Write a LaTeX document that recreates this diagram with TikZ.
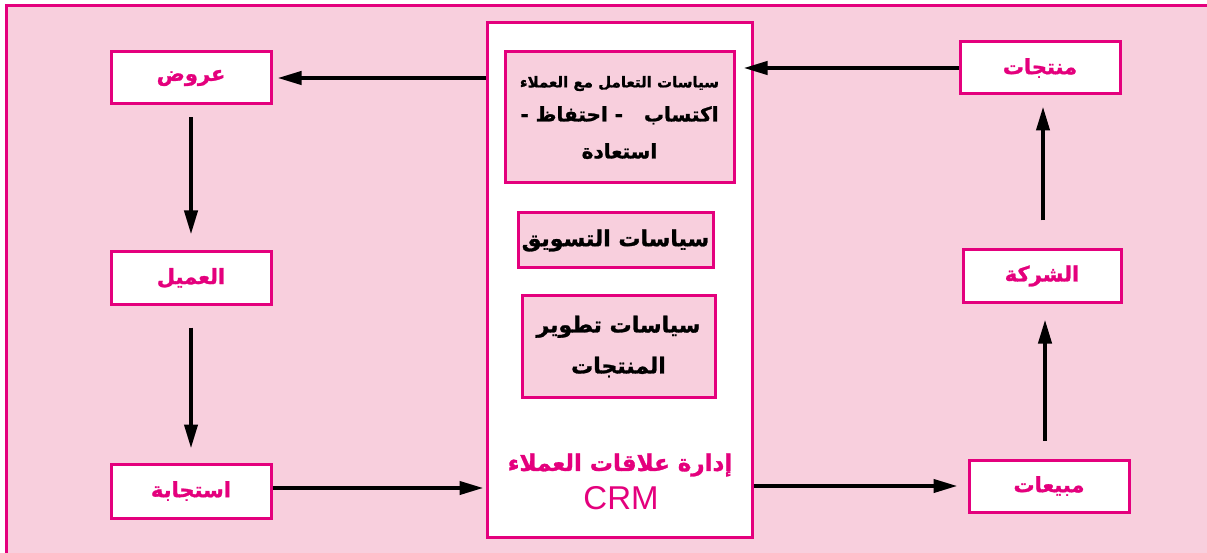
\documentclass[tikz,border=0pt]{standalone}
\usepackage{fontspec}
\usetikzlibrary{arrows.meta}
\TeXXeTstate=1
\newfontfamily\arabicfont[Script=Arabic,BoldFeatures={FakeBold=1.2}]{DejaVu Sans}
\newfontfamily\latinfont{Liberation Sans}
\definecolor{crmpink}{HTML}{F8CFDD}
\definecolor{crmmagenta}{HTML}{E4007D}
\newcommand{\artxt}[1]{\beginR #1\endR}

\begin{document}
\begin{tikzpicture}[x=1pt,y=-1pt,>={Triangle[length=24pt,width=13pt]},
  outerbox/.style={draw=crmmagenta,fill=white,line width=3pt,minimum width=160pt,minimum height=52pt,inner sep=0pt,
    text=crmmagenta,font=\arabicfont\bfseries\fontsize{21}{26}\selectfont},
  innerbox/.style={draw=crmmagenta,fill=crmpink,line width=3pt,inner sep=0pt,align=center},
  flow/.style={->,line width=4pt}]
      \useasboundingbox (0,0) rectangle (1207,553);
      \clip (0,0) rectangle (1207,553);
      \fill[crmpink] (6,6) rectangle (1207,553);
      \draw[crmmagenta,line width=3pt] (6,560) -- (6,6) -- (1215,6);

      % centre block
      \node[draw=crmmagenta,fill=white,line width=3pt,minimum width=265pt,minimum height=514pt,inner sep=0pt] (crm) at (619.5,280) {};
      \node[innerbox,minimum width=229pt,minimum height=131pt,font=\arabicfont\bfseries\fontsize{20}{37}\selectfont] (dealing) at (619.5,117.5)
        {{\fontsize{15}{16}\selectfont\artxt{سياسات التعامل مع العملاء}}\\[-3pt] \artxt{اكتساب \ \ - احتفاظ -}\\ \artxt{استعادة}};
      \node[innerbox,minimum width=195pt,minimum height=55pt,font=\arabicfont\bfseries\fontsize{22}{26}\selectfont] (marketing) at (615.5,240.5)
        {\artxt{سياسات التسويق}};
      \node[innerbox,minimum width=193pt,minimum height=101pt,font=\arabicfont\bfseries\fontsize{22}{41}\selectfont] (development) at (618.5,346.5)
        {\artxt{سياسات تطوير}\\ \artxt{المنتجات}};
      \node[text=crmmagenta,font=\arabicfont\bfseries\fontsize{23}{26}\selectfont] (crmtitle) at (620,465) {\artxt{إدارة علاقات العملاء}};
      \node[text=crmmagenta,font=\latinfont\fontsize{33}{36}\selectfont] (crmname) at (621,498) {CRM};

      % left column
      \node[outerbox] (offers) at (191,78) {\artxt{عروض}};
      \node[outerbox] (customer) at (191,278) {\artxt{العميل}};
      \node[outerbox,minimum height=54pt] (response) at (191,491) {\artxt{استجابة}};

      % right column
      \node[outerbox] (products) at (1040,68) {\artxt{منتجات}};
      \node[outerbox,minimum width=158pt] (company) at (1042,276) {\artxt{الشركة}};
      \node[outerbox] (sales) at (1049,486) {\artxt{مبيعات}};

      \draw[flow] (crm.west |- offers.east) -- ([xshift=5pt]offers.east);
      \draw[flow] (products.west) -- ([xshift=8pt]dealing.east |- products.west);
      \draw[flow,shorten <=12pt,shorten >=16pt] (offers.south) -- (customer.north);
      \draw[flow,shorten <=22pt,shorten >=14pt] (customer.south) -- (response.north);
      \draw[flow] ([yshift=3pt]response.east) -- ([yshift=3pt,xshift=-2pt]response.east -| crm.west);
      \draw[flow,shorten >=10pt] (crm.east |- sales.west) -- (sales.west);
      \draw[flow,shorten <=18pt,shorten >=16pt] ([xshift=-4pt]sales.north) -- ([xshift=-4pt]sales.north |- company.south);
      \draw[flow,shorten <=28pt,shorten >=11pt] ([xshift=1pt]company.north) -- ([xshift=1pt]company.north |- products.south);
\end{tikzpicture}
\end{document}
